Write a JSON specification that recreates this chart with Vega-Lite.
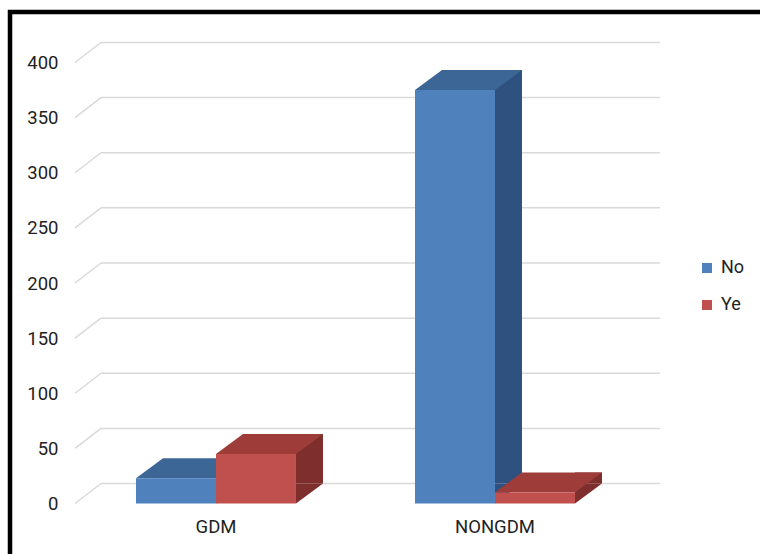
{
  "$schema": "https://vega.github.io/schema/vega-lite/v6.json",
  "width": 750,
  "height": 542,
  "autosize": {"type": "none"},
  "padding": {"left": 10, "top": 12, "right": 0, "bottom": 0},
  "background": "white",
  "config": {
    "font": "Roboto",
    "view": {"stroke": "#000000", "strokeWidth": 4.5, "strokeDash": [750, 1292, 542, 20]}
  },
  "datasets": {
    "bars": [
      {"g": "GDM", "s": "No", "v": 23},
      {"g": "GDM", "s": "Ye", "v": 45},
      {"g": "NONGDM", "s": "No", "v": 375},
      {"g": "NONGDM", "s": "Ye", "v": 10}
    ],
    "grid": [
      {"v": 0}, {"v": 50}, {"v": 100}, {"v": 150}, {"v": 200},
      {"v": 250}, {"v": 300}, {"v": 350}, {"v": 400}
    ]
  },
  "layer": [
    {
      "data": {"name": "grid"},
      "mark": {"type": "rule", "color": "#d9d9d9", "strokeWidth": 1.5, "xOffset": -35, "x2Offset": 165, "yOffset": -20, "y2Offset": -20},
      "encoding": {
        "x": {"datum": "GDM", "type": "nominal", "bandPosition": 0, "scale": {"domain": ["GDM", "NONGDM"], "paddingInner": 0.42652, "paddingOuter": 0.55735, "align": 0.4051},
          "axis": {"title": null, "orient": "bottom", "offset": -50.5, "ticks": false, "domain": false, "labelAngle": 0, "labelFontSize": 18.5, "labelPadding": 14, "labelColor": "#222222"}},
        "x2": {"datum": "NONGDM"},
        "y": {"field": "v", "type": "quantitative", "scale": {"domain": [-45.8, 445.8], "nice": false, "zero": false},
          "axis": {"title": null, "orient": "left", "offset": -66, "values": [0, 50, 100, 150, 200, 250, 300, 350, 400], "ticks": false, "domain": false, "grid": false, "labelFontSize": 18.5, "labelPadding": 18, "labelColor": "#222222"}},
        "y2": {"field": "v"}
      }
    },
    {
      "data": {"name": "grid"},
      "mark": {"type": "rule", "color": "#d9d9d9", "strokeWidth": 1.5, "xOffset": -61, "x2Offset": -115, "yOffset": 0, "y2Offset": -20},
      "encoding": {
        "x": {"datum": "GDM", "type": "nominal", "bandPosition": 0, "scale": {"domain": ["GDM", "NONGDM"], "paddingInner": 0.42652, "paddingOuter": 0.55735, "align": 0.4051},
          "axis": {"title": null, "orient": "bottom", "offset": -50.5, "ticks": false, "domain": false, "labelAngle": 0, "labelFontSize": 18.5, "labelPadding": 14, "labelColor": "#222222"}},
        "x2": {"datum": "GDM"},
        "y": {"field": "v", "type": "quantitative", "scale": {"domain": [-45.8, 445.8], "nice": false, "zero": false},
          "axis": {"title": null, "orient": "left", "offset": -66, "values": [0, 50, 100, 150, 200, 250, 300, 350, 400], "ticks": false, "domain": false, "grid": false, "labelFontSize": 18.5, "labelPadding": 18, "labelColor": "#222222"}},
        "y2": {"field": "v"}
      }
    },
    {
      "data": {"name": "bars"},
      "resolve": {"scale": {"xOffset": "independent"}},
      "encoding": {
        "x": {"field": "g", "type": "nominal", "scale": {"domain": ["GDM", "NONGDM"], "paddingInner": 0.42652, "paddingOuter": 0.55735, "align": 0.4051},
          "axis": {"title": null, "orient": "bottom", "offset": -50.5, "ticks": false, "domain": false, "labelAngle": 0, "labelFontSize": 18.5, "labelPadding": 14, "labelColor": "#222222"}},
        "xOffset": {"field": "s", "type": "nominal", "scale": {"type": "band", "domain": ["No", "Ye"], "paddingInner": 0, "paddingOuter": 0}},
        "y": {"field": "v", "type": "quantitative", "scale": {"domain": [-45.8, 445.8], "nice": false, "zero": false},
          "axis": {"title": null, "orient": "left", "offset": -66, "values": [0, 50, 100, 150, 200, 250, 300, 350, 400], "ticks": false, "domain": false, "grid": false, "labelFontSize": 18.5, "labelPadding": 18, "labelColor": "#222222"}}
      },
      "layer": [
        {
          "mark": {"type": "rule", "strokeWidth": 27, "strokeCap": "butt", "yOffset": -20, "y2Offset": -20},
          "encoding": {
            "xOffset": {"field": "s", "type": "nominal", "scale": {"type": "band", "domain": ["No", "Ye"], "range": [53.5, 213.5], "paddingInner": 0, "paddingOuter": 0}},
            "y2": {"datum": 0},
            "color": {"condition": {"test": "datum.s == 'No'", "value": "#2E5180"}, "value": "#7E2F2D"}
          }
        },
        {
          "mark": {"type": "point", "shape": "M1,0L1,-0.5L1.675,-0.5Z", "size": 6400, "filled": true, "opacity": 1, "strokeWidth": 0},
          "encoding": {
            "y": {"datum": 0, "type": "quantitative"},
            "color": {"condition": {"test": "datum.s == 'No'", "value": "#2E5180"}, "value": "#7E2F2D"}
          }
        },
        {
          "mark": {"type": "point", "shape": "M-1,0L1,0L1.675,-0.5L-0.325,-0.5Z", "size": 6400, "filled": true, "opacity": 1, "strokeWidth": 0},
          "encoding": {
            "color": {"condition": {"test": "datum.s == 'No'", "value": "#3C6696"}, "value": "#9E3C3A"}
          }
        },
        {
          "mark": {"type": "bar"},
          "encoding": {
            "color": {"field": "s", "type": "nominal", "scale": {"domain": ["No", "Ye"], "range": ["#4F81BD", "#C0504D"]},
              "legend": {"title": null, "orient": "none", "legendX": 688, "legendY": 247, "symbolType": "square", "symbolSize": 100, "labelFontSize": 18, "labelColor": "#222222", "rowPadding": 19, "labelOffset": 5, "symbolStrokeWidth": 0}}
          }
        }
      ]
    }
  ]
}
